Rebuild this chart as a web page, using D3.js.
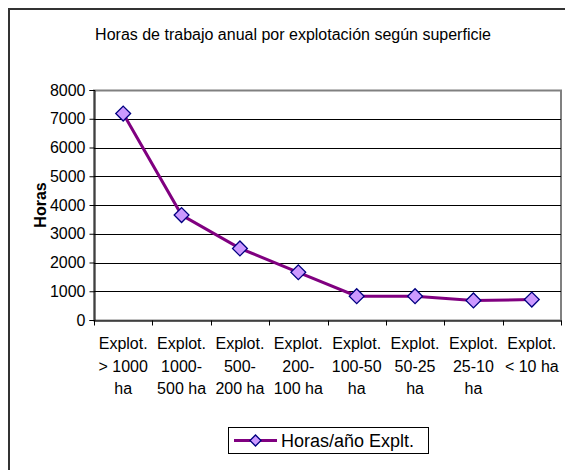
<!DOCTYPE html>
<html>
<head>
<meta charset="utf-8">
<script src="https://cdn.jsdelivr.net/npm/d3@7"></script>
<style>
  html, body { margin: 0; padding: 0; background: #fff; overflow: hidden; }
  svg { display: block; }
  text { font-family: "Liberation Sans", Arial, sans-serif; fill: #000; }
</style>
</head>
<body>
<svg id="chart" width="565" height="470"></svg>
<script>
const title = "Horas de trabajo anual por explotación según superficie";
const yAxisTitle = "Horas";
const seriesName = "Horas/año Explt.";
const categories = [
  "Explot.\n> 1000\nha",
  "Explot.\n1000-\n500 ha",
  "Explot.\n500-\n200 ha",
  "Explot.\n200-\n100 ha",
  "Explot.\n100-50\nha",
  "Explot.\n50-25\nha",
  "Explot.\n25-10\nha",
  "Explot.\n< 10 ha"
];
const values = [7180, 3650, 2490, 1660, 830, 830, 680, 710];
const yTicks = [0, 1000, 2000, 3000, 4000, 5000, 6000, 7000, 8000];

const svg = d3.select("#chart");
const m = { left: 94, top: 90, right: 561, bottom: 320 };
const FONT = "Liberation Sans, Arial, sans-serif";

// outer chart border (right/bottom fall outside the picture)
svg.append("rect").attr("x", 9).attr("y", 9).attr("width", 600).attr("height", 500)
  .attr("fill", "#fff").attr("stroke", "#333").attr("stroke-width", 2);

svg.append("text").attr("x", 293).attr("y", 40).attr("text-anchor", "middle")
  .style("font-size", "16px").text(title);

const x = d3.scaleBand().domain(categories).range([m.left, m.right]);
const y = d3.scaleLinear().domain([0, 8000]).range([m.bottom, m.top]);

// plot area border
svg.append("rect").attr("x", m.left).attr("y", m.top + 0.5).attr("width", m.right - m.left)
  .attr("height", m.bottom - m.top).attr("fill", "none").attr("stroke", "#808080").attr("stroke-width", 2);

// gridlines
svg.append("g").selectAll("line").data(yTicks.filter(d => d > 0 && d < 8000)).join("line")
  .attr("x1", m.left).attr("x2", m.right)
  .attr("y1", d => Math.round(y(d)) + 0.5).attr("y2", d => Math.round(y(d)) + 0.5)
  .attr("stroke", "#000").attr("stroke-width", 1);

// y axis
const yAxis = d3.axisLeft(y).tickValues(yTicks).tickFormat(d3.format("d")).tickSize(5).tickPadding(4);
const gy = svg.append("g").attr("transform", `translate(${m.left + 0.5},0)`).call(yAxis);
gy.selectAll("text").style("font-size", "16px").style("font-family", FONT);
gy.selectAll("line, path").attr("stroke", "#000");

// x axis
const xAxis = d3.axisBottom(x).tickSize(0).tickFormat("");
const gx = svg.append("g").attr("transform", `translate(0,${m.bottom + 0.5})`).call(xAxis);
gx.select("path").attr("stroke", "#000");
const bounds = categories.map(c => x(c)).concat([x(categories[categories.length - 1]) + x.bandwidth()]);
gx.selectAll("line.bt").data(bounds).join("line").attr("class", "bt")
  .attr("x1", d => Math.round(d) + 0.5).attr("x2", d => Math.round(d) + 0.5)
  .attr("y1", 0).attr("y2", 5).attr("stroke", "#000");

// category labels
const cx = c => x(c) + x.bandwidth() / 2;
const lbl = svg.append("g");
categories.forEach(c => {
  const t = lbl.append("text").attr("text-anchor", "middle").style("font-size", "16px")
    .attr("x", cx(c)).attr("y", 349);
  c.split("\n").forEach((line, i) => {
    t.append("tspan").attr("x", cx(c)).attr("dy", i === 0 ? 0 : 22.5).text(line);
  });
});

// y axis title
svg.append("text").attr("transform", `translate(46,${(m.top + m.bottom) / 2}) rotate(-90)`)
  .attr("text-anchor", "middle").style("font-size", "16px").style("font-weight", "bold").text(yAxisTitle);

// line
const data = categories.map((c, i) => ({ c, v: values[i] }));
svg.append("path").datum(data)
  .attr("d", d3.line().x(d => cx(d.c)).y(d => y(d.v)))
  .attr("fill", "none").attr("stroke", "#800080").attr("stroke-width", 3);

svg.append("g").selectAll("path").data(data).join("path")
  .attr("transform", d => `translate(${cx(d.c)},${y(d.v)}) rotate(45)`)
  .attr("d", d3.symbol().type(d3.symbolSquare).size(110))
  .attr("fill", "#CC99FF").attr("stroke", "#000080").attr("stroke-width", 1.3);

// legend
const lg = svg.append("g");
lg.append("rect").attr("x", 228.5).attr("y", 427.5).attr("width", 200).attr("height", 26)
  .attr("fill", "#fff").attr("stroke", "#000").attr("stroke-width", 1);
lg.append("line").attr("x1", 234).attr("x2", 277).attr("y1", 440.5).attr("y2", 440.5)
  .attr("stroke", "#800080").attr("stroke-width", 3);
lg.append("path").attr("transform", "translate(255.5,440.5) rotate(45)")
  .attr("d", d3.symbol().type(d3.symbolSquare).size(60))
  .attr("fill", "#CC99FF").attr("stroke", "#000080").attr("stroke-width", 1.3);
lg.append("text").attr("x", 281).attr("y", 447).style("font-size", "18px").text(seriesName);
</script>
</body>
</html>
